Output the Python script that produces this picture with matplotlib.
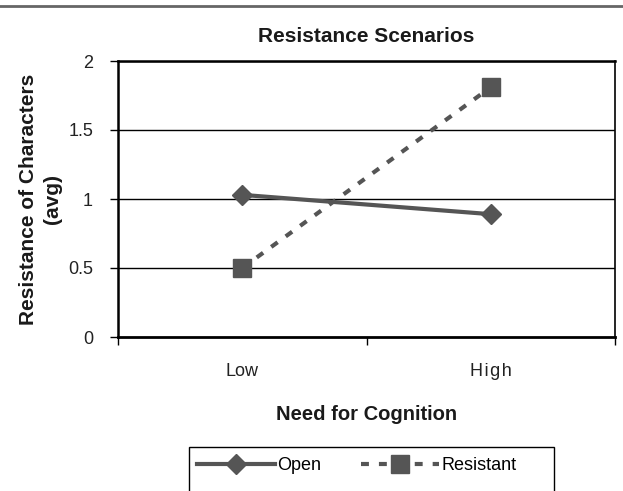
import matplotlib.pyplot as plt
from matplotlib.lines import Line2D
from matplotlib.patches import Rectangle

plt.rcParams["font.family"] = ["Liberation Sans", "DejaVu Sans"]

categories = ["Low", "H\u200ai\u200ag\u200ah"]
open_vals = [1.03, 0.89]
resistant_vals = [0.50, 1.81]
y_ticks = [0, 0.5, 1, 1.5, 2]
y_tick_labels = ["0", "0.5", "1", "1.5", "2"]

line_color = "#555555"
W, H = 623, 491

fig = plt.figure(figsize=(W / 100, H / 100), dpi=100)
ax = fig.add_axes([118 / W, 1 - 337 / H, (615 - 118) / W, (337 - 61) / H])

x = [0.5, 1.5]
ax.plot(x, open_vals, color=line_color, lw=3, marker="D", ms=10,
        label="Open", zorder=3)
ax.plot(x, resistant_vals, color=line_color, lw=3, ls=(0, (1.9, 2.4)),
        marker="s", ms=13, label="Resistant", zorder=3)

ax.set_xlim(0, 2)
ax.set_ylim(0, 2)
ax.set_yticks(y_ticks)
ax.set_yticklabels(y_tick_labels, fontsize=13, color="#222222")
ax.set_xticks([0, 1, 2])
ax.set_xticklabels([])
ax.set_xticks(x, minor=True)
ax.set_xticklabels(categories, minor=True, fontsize=13, color="#222222")
ax.tick_params(axis="x", which="minor", length=0, pad=19)
ax.tick_params(axis="x", which="major", length=6, direction="out", width=1)
ax.tick_params(axis="y", length=6, direction="out", width=1, pad=12)

for v in y_ticks[1:]:
    ax.axhline(v, color="black", lw=1, zorder=1)

for s in ax.spines.values():
    s.set_linewidth(1.2)
    s.set_color("black")
ax.spines["bottom"].set_linewidth(2)
ax.spines["left"].set_linewidth(1.8)
ax.spines["top"].set_linewidth(1.8)

ax.set_title("Resistance Scenarios", fontsize=15, fontweight="bold", pad=14,
             color="#1a1a1a")
ax.set_xlabel("Need for Cognition", fontsize=14.5, fontweight="bold",
              labelpad=18, color="#1a1a1a")
ax.set_ylabel("Resistance of Characters\n(avg)", fontsize=15,
              fontweight="bold", linespacing=1.3, color="#1a1a1a")
ax.yaxis.set_label_coords(-0.1127, 0.5)

# legend frame runs past the bottom edge, so draw it by hand
fig.add_artist(Rectangle((189 / W, -0.05), (554 - 189) / W, 0.05 + 1 - 447 / H,
                         transform=fig.transFigure, fill=False,
                         edgecolor="black", lw=1))
fig.legend(loc="upper left", bbox_to_anchor=(197 / W, 1 - 457 / H), ncol=2,
           fontsize=13, handlelength=4.3, handletextpad=0.15,
           columnspacing=2.2, frameon=False, borderpad=0, borderaxespad=0)

fig.add_artist(Line2D([0, 1], [0.988, 0.988], color="#666666", lw=2,
                      transform=fig.transFigure))

fig.savefig("out.png", dpi=100)
